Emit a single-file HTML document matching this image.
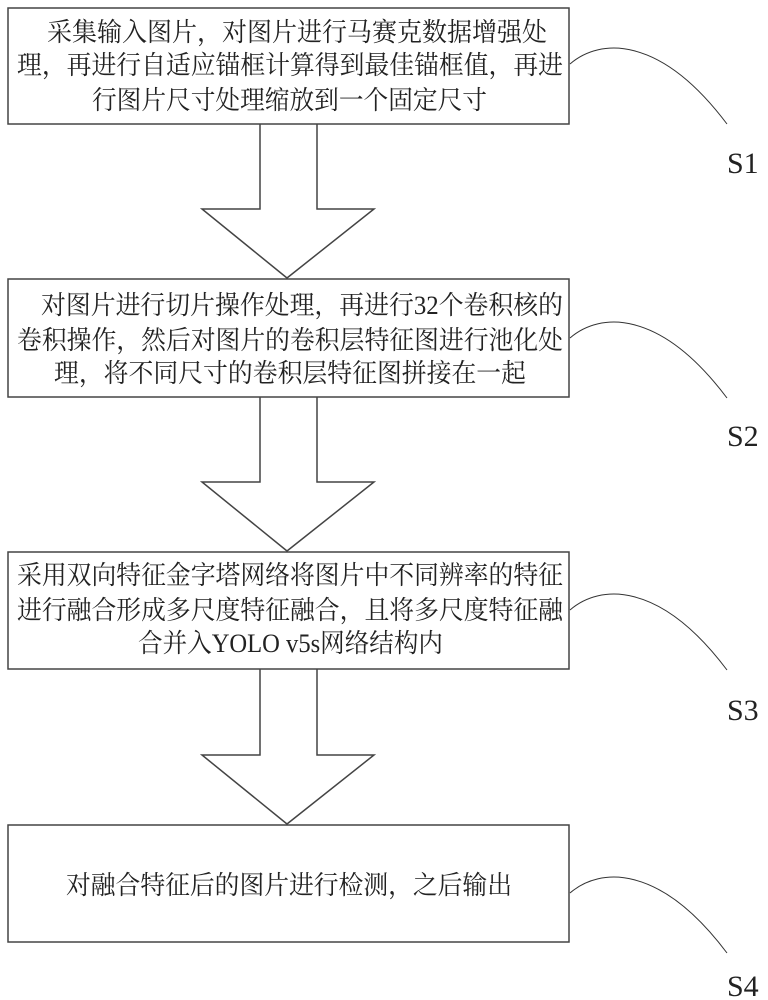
<!DOCTYPE html>
<html><head><meta charset="utf-8"><style>
html,body{margin:0;padding:0;background:#fff;width:768px;height:1000px;overflow:hidden}
</style></head><body>
<svg width="768" height="1000" xmlns="http://www.w3.org/2000/svg">
<g fill="#fff" stroke="#444" stroke-width="1.5">
<rect x="8" y="8" width="561" height="116"/>
<rect x="8" y="279" width="561" height="118"/>
<rect x="8" y="552" width="561" height="117"/>
<rect x="8" y="825" width="561" height="117"/>
<polyline points="260,124 260,209 202,209 287,278 374,209 317,209 317,124" fill="none"/>
<polyline points="260,397 260,482 202,482 287,551 374,482 317,482 317,397" fill="none"/>
<polyline points="260,669 260,755 202,755 287,824 374,755 317,755 317,669" fill="none"/>
</g>
<g fill="none" stroke="#333" stroke-width="1">
<path d="M570,64 C600,38 660,35 727,124"/>
<path d="M570,338 C600,312 660,309 727,398"/>
<path d="M570,610 C600,584 660,581 727,670"/>
<path d="M570,893 C600,867 660,864 727,953"/>
</g>
<g font-family="Liberation Serif, Noto Serif CJK SC, serif" font-size="26" fill="#222">
<text x="47" y="41" textLength="500" lengthAdjust="spacingAndGlyphs">采集输入图片，对图片进行马赛克数据增强处</text>
<text x="17" y="74" textLength="546" lengthAdjust="spacingAndGlyphs">理，再进行自适应锚框计算得到最佳锚框值，再进</text>
<text x="92" y="109" textLength="395" lengthAdjust="spacingAndGlyphs">行图片尺寸处理缩放到一个固定尺寸</text>
<text x="41" y="314" textLength="522" lengthAdjust="spacingAndGlyphs">对图片进行切片操作处理，再进行32个卷积核的</text>
<text x="17" y="349" textLength="546" lengthAdjust="spacingAndGlyphs">卷积操作，然后对图片的卷积层特征图进行池化处</text>
<text x="54" y="382" textLength="472" lengthAdjust="spacingAndGlyphs">理，将不同尺寸的卷积层特征图拼接在一起</text>
<text x="17" y="584" textLength="546" lengthAdjust="spacingAndGlyphs">采用双向特征金字塔网络将图片中不同辨率的特征</text>
<text x="17" y="619" textLength="546" lengthAdjust="spacingAndGlyphs">进行融合形成多尺度特征融合，且将多尺度特征融</text>
<text x="138" y="652" textLength="305" lengthAdjust="spacingAndGlyphs">合并入YOLO v5s网络结构内</text>
<text x="66" y="894" textLength="446" lengthAdjust="spacingAndGlyphs">对融合特征后的图片进行检测，之后输出</text>
</g>
<g font-family="Liberation Serif, serif" font-size="30" fill="#222">
<text x="727" y="173">S1</text>
<text x="727" y="446">S2</text>
<text x="727" y="720">S3</text>
<text x="727" y="996">S4</text>
</g>
</svg>
</body></html>
